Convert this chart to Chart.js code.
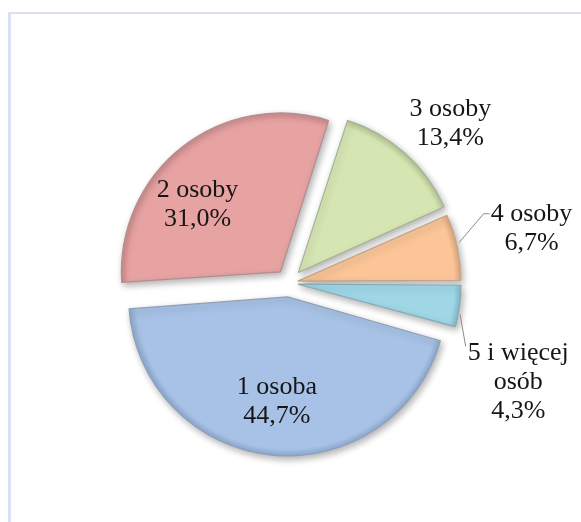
<!DOCTYPE html>
<html><head><meta charset="utf-8">
<script src="https://cdn.jsdelivr.net/npm/chart.js@4/dist/chart.umd.min.js"></script>
<style>
html,body{margin:0;padding:0;background:#fff;}
#wrap{position:relative;width:581px;height:522px;overflow:hidden;background:#fff;}
#frame{position:absolute;left:8px;top:12px;width:700px;height:700px;border-top:2px solid #dae1f1;border-left:3px solid #dae1f1;}
canvas{position:absolute;left:0;top:0;}
</style></head><body>
<div id="wrap"><div id="frame"></div><canvas id="c" width="581" height="522"></canvas></div>
<script>
// ---- data ----
const categories = ['1 osoba', '2 osoby', '3 osoby', '4 osoby', '5 i więcej osób'];
const categoryLines = [['1 osoba'], ['2 osoby'], ['3 osoby'], ['4 osoby'], ['5 i więcej', 'osób']];
const shares = [44.7, 31.0, 13.4, 6.7, 4.3];

// ---- styles ----
const fills = ['#a7c2e6', '#e7a2a2', '#d6e6b3', '#fbc597', '#9fd7e7'];
const shades = ['#8fa9cf', '#cc8a8a', '#b7c896', '#e0a97c', '#84bccc'];
const edges = ['#8e9fb8', '#b18f8f', '#a6b294', '#c3a58c', '#89aab4'];
const explode = [14, 14, 14, 9, 9];           // px each slice is pulled out
const radiusExtra = [0, 0, 1, 4, 4];
const baseRadius = 159;
// label placement: k = distance as fraction of radius, da = angle shift (deg)
const labelPlace = [
  {k: 0.66, da: 0,    leader: null},
  {k: 0.67, da: -13,  leader: null},
  {k: 1.33, da: 3.8,  leader: null},
  {k: 1.47, da: -0.7, leader: 'elbow'},
  {k: 1.48, da: 16.3, leader: 'drop'}
];
const FONT = '26px "Liberation Serif", "Times New Roman", serif';
const LH = 29;

const total = shares.reduce((a, b) => a + b, 0);
const rotation = 90 + shares[shares.length - 1] / total * 360;
const pct = v => v.toFixed(1).replace('.', ',') + '%';

function sliceFill(ctx) {
  const i = ctx.dataIndex;
  const ch = ctx.chart;
  const ca = ch.chartArea;
  if (!ca || i === undefined) return fills[i] || fills[0];
  const cx = (ca.left + ca.right) / 2, cy = (ca.top + ca.bottom) / 2;
  const R = baseRadius + radiusExtra[i];
  const g = ch.ctx.createRadialGradient(cx, cy, 0, cx, cy, R);
  g.addColorStop(0, fills[i]);
  g.addColorStop((R - 7) / R, fills[i]);
  g.addColorStop(1, shades[i]);
  return g;
}

const fixRadius = {
  id: 'fixRadius',
  afterUpdate(chart) {
    chart.getDatasetMeta(0).data.forEach((arc, i) => {
      const t = (arc.options.offset || 0) / 4;
      const fix = 1 - Math.sin(Math.min(Math.PI, arc.circumference));
      arc.outerRadius = arc.outerRadius - t * fix + radiusExtra[i];
    });
  }
};

const shadow = {
  id: 'shadow',
  beforeDatasetsDraw(chart) {
    const c = chart.ctx;
    c.save();
    c.shadowColor = 'rgba(0,0,0,0.30)';
    c.shadowBlur = 7;
    c.shadowOffsetX = 2;
    c.shadowOffsetY = 3;
  },
  afterDatasetsDraw(chart) { chart.ctx.restore(); }
};

const labels = {
  id: 'sliceLabels',
  afterDraw(chart) {
    const c = chart.ctx;
    const meta = chart.getDatasetMeta(0);
    c.save();
    c.font = FONT;
    c.fillStyle = '#161616';
    c.textAlign = 'center';
    c.textBaseline = 'middle';
    meta.data.forEach((arc, i) => {
      const t = (arc.options.offset || 0) / 4;
      const fix = 1 - Math.sin(Math.min(Math.PI, arc.circumference));
      const r = arc.outerRadius + t * fix;
      const mid = (arc.startAngle + arc.endAngle) / 2;
      const ax = arc.x + Math.cos(mid) * t, ay = arc.y + Math.sin(mid) * t;
      const p = labelPlace[i];
      const ang = mid + p.da * Math.PI / 180;
      const lx = ax + Math.cos(ang) * r * p.k;
      const ly = ay + Math.sin(ang) * r * p.k;
      const lines = categoryLines[i].concat([pct(shares[i])]);
      const n = lines.length;
      let w = 0;
      lines.forEach(s => { w = Math.max(w, c.measureText(s).width); });
      const top = ly - (n - 1) / 2 * LH;
      lines.forEach((s, j) => c.fillText(s, lx, top + j * LH));
      if (p.leader) {
        c.save();
        c.strokeStyle = '#8a8a8a';
        c.lineWidth = 1;
        c.beginPath();
        const left = lx - w / 2;
        if (p.leader === 'elbow') {
          const sx = ax + Math.cos(mid - 0.025) * (r + 3), sy = ay + Math.sin(mid - 0.025) * (r + 3);
          c.moveTo(sx, sy);
          c.lineTo(left - 7, top);
          c.lineTo(left - 1, top);
        } else {
          const sa = mid + 0.05;
          const sx = ax + Math.cos(sa) * (r + 2), sy = ay + Math.sin(sa) * (r + 2);
          c.moveTo(sx, sy);
          c.lineTo(left - 2, top - 7);
        }
        c.stroke();
        c.restore();
      }
    });
    c.restore();
  }
};

new Chart(document.getElementById('c'), {
  type: 'pie',
  data: {
    labels: categories,
    datasets: [{
      data: shares,
      backgroundColor: sliceFill,
      borderColor: edges,
      borderWidth: 1.2,
      offset: explode.map(e => e * 4)
    }]
  },
  options: {
    responsive: false,
    animation: false,
    events: [],
    rotation: rotation,
    radius: baseRadius,
    layout: {padding: {left: 0, right: 3, top: 44, bottom: 0}},
    plugins: {legend: {display: false}, tooltip: {enabled: false}}
  },
  plugins: [fixRadius, shadow, labels]
});
</script>
</body></html>
